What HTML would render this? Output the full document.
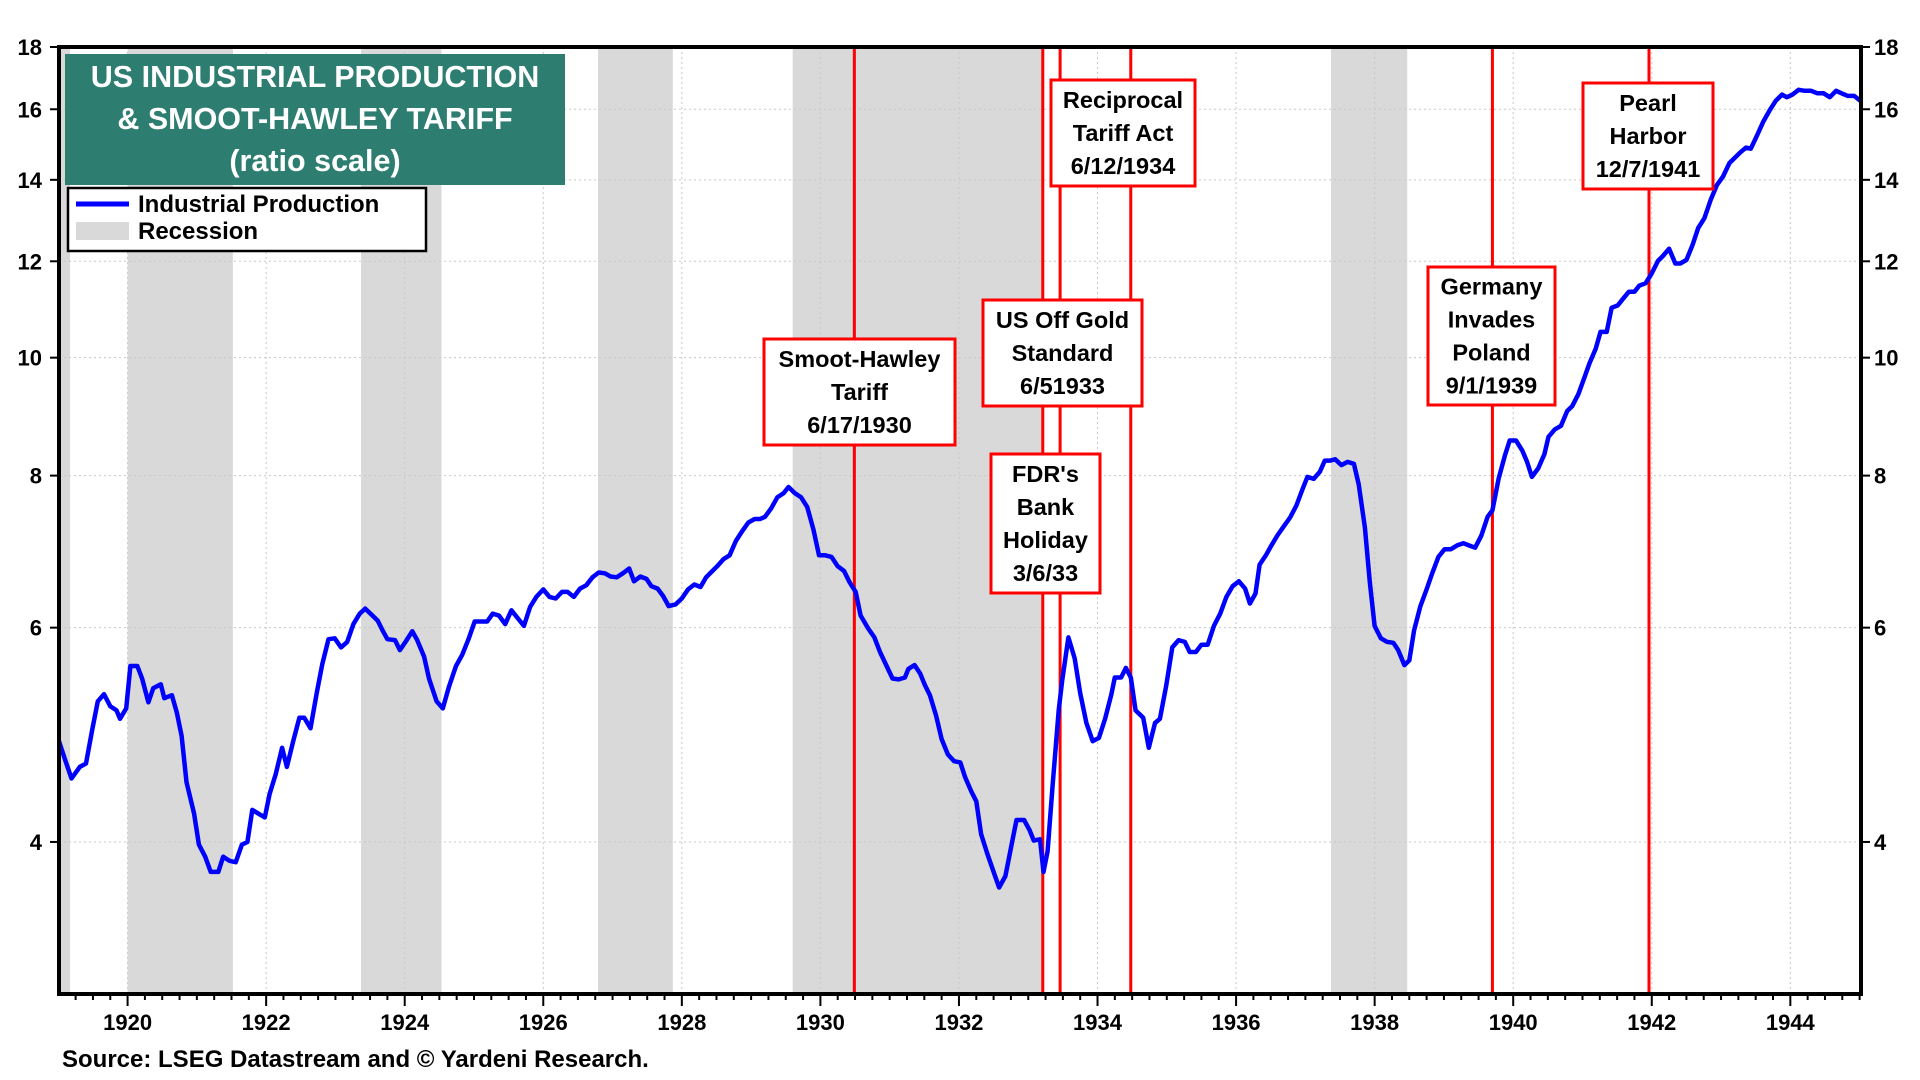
<!DOCTYPE html>
<html><head><meta charset="utf-8"><style>
html,body{margin:0;padding:0;background:#fff;}
svg{display:block;font-family:"Liberation Sans",Arial,sans-serif;font-weight:bold;}
</style></head><body>
<svg id="chart" width="1920" height="1080" viewBox="0 0 1920 1080" xmlns="http://www.w3.org/2000/svg">
<g id="g-rec"></g><g id="g-grid"></g><g id="g-events"></g><g id="g-line"></g><g id="g-axes"></g><g id="g-ann"></g><g id="g-legend"></g>
<text x="62" y="1067" font-size="24" fill="#000">Source: LSEG Datastream and © Yardeni Research.</text>
</svg>
<script>
const dates=[1919.01,1919.10,1919.19,1919.31,1919.40,1919.49,1919.57,1919.66,1919.75,1919.84,1919.89,1919.98,1920.04,1920.14,1920.21,1920.30,1920.37,1920.48,1920.53,1920.64,1920.71,1920.78,1920.85,1920.96,1921.03,1921.12,1921.20,1921.31,1921.38,1921.47,1921.56,1921.65,1921.73,1921.80,1921.89,1921.98,1922.05,1922.14,1922.23,1922.30,1922.39,1922.48,1922.55,1922.64,1922.73,1922.81,1922.90,1922.99,1923.08,1923.17,1923.26,1923.35,1923.43,1923.52,1923.61,1923.68,1923.75,1923.86,1923.93,1924.02,1924.11,1924.18,1924.28,1924.35,1924.46,1924.55,1924.64,1924.74,1924.83,1924.92,1925.01,1925.10,1925.19,1925.27,1925.36,1925.45,1925.54,1925.63,1925.72,1925.81,1925.90,1926.00,1926.09,1926.18,1926.27,1926.35,1926.44,1926.53,1926.62,1926.71,1926.80,1926.89,1926.97,1927.06,1927.15,1927.24,1927.31,1927.40,1927.49,1927.56,1927.65,1927.73,1927.81,1927.91,1928.00,1928.09,1928.18,1928.27,1928.35,1928.42,1928.51,1928.60,1928.69,1928.78,1928.87,1928.96,1929.05,1929.13,1929.20,1929.29,1929.38,1929.47,1929.54,1929.63,1929.72,1929.81,1929.90,1929.98,1930.07,1930.16,1930.25,1930.34,1930.42,1930.51,1930.58,1930.69,1930.78,1930.86,1930.95,1931.04,1931.13,1931.22,1931.27,1931.36,1931.44,1931.51,1931.58,1931.67,1931.75,1931.84,1931.93,1932.02,1932.09,1932.18,1932.25,1932.32,1932.41,1932.50,1932.58,1932.67,1932.76,1932.83,1932.94,1933.02,1933.08,1933.17,1933.22,1933.28,1933.35,1933.44,1933.49,1933.58,1933.67,1933.75,1933.84,1933.93,1934.02,1934.11,1934.20,1934.25,1934.34,1934.41,1934.48,1934.55,1934.66,1934.74,1934.83,1934.90,1934.99,1935.08,1935.17,1935.26,1935.33,1935.42,1935.50,1935.59,1935.68,1935.77,1935.86,1935.95,1936.04,1936.13,1936.20,1936.28,1936.34,1936.43,1936.51,1936.60,1936.69,1936.78,1936.87,1936.96,1937.03,1937.12,1937.21,1937.28,1937.36,1937.43,1937.52,1937.61,1937.70,1937.77,1937.86,1937.93,1938.00,1938.09,1938.18,1938.27,1938.34,1938.43,1938.50,1938.57,1938.66,1938.75,1938.83,1938.92,1939.01,1939.10,1939.19,1939.28,1939.36,1939.45,1939.54,1939.63,1939.70,1939.79,1939.88,1939.95,1940.04,1940.13,1940.20,1940.27,1940.36,1940.45,1940.51,1940.60,1940.69,1940.78,1940.85,1940.94,1941.03,1941.10,1941.19,1941.26,1941.35,1941.42,1941.51,1941.58,1941.67,1941.75,1941.82,1941.91,1942.00,1942.09,1942.16,1942.25,1942.34,1942.41,1942.50,1942.59,1942.67,1942.76,1942.85,1942.94,1943.03,1943.12,1943.19,1943.28,1943.36,1943.43,1943.52,1943.61,1943.70,1943.79,1943.88,1943.95,1944.03,1944.12,1944.21,1944.30,1944.39,1944.48,1944.57,1944.66,1944.74,1944.83,1944.92,1945.01];
const production=[4.84,4.67,4.51,4.61,4.64,4.95,5.22,5.29,5.17,5.13,5.05,5.15,5.58,5.58,5.45,5.21,5.35,5.39,5.25,5.28,5.11,4.89,4.48,4.22,3.98,3.89,3.78,3.78,3.89,3.86,3.85,3.98,4.0,4.25,4.22,4.19,4.38,4.55,4.78,4.61,4.84,5.06,5.06,4.96,5.30,5.60,5.87,5.88,5.78,5.84,6.04,6.16,6.22,6.15,6.08,5.97,5.87,5.86,5.75,5.85,5.96,5.86,5.68,5.45,5.22,5.15,5.37,5.58,5.70,5.87,6.07,6.07,6.07,6.16,6.14,6.04,6.20,6.11,6.02,6.24,6.36,6.45,6.36,6.34,6.42,6.42,6.36,6.46,6.50,6.60,6.66,6.65,6.61,6.60,6.65,6.71,6.55,6.61,6.58,6.49,6.46,6.37,6.25,6.27,6.34,6.45,6.51,6.48,6.60,6.66,6.74,6.83,6.88,7.07,7.20,7.32,7.37,7.37,7.40,7.52,7.68,7.74,7.83,7.74,7.68,7.54,7.22,6.88,6.88,6.86,6.74,6.68,6.54,6.42,6.14,5.99,5.89,5.73,5.59,5.45,5.44,5.46,5.55,5.59,5.50,5.38,5.28,5.08,4.86,4.72,4.66,4.65,4.52,4.40,4.32,4.06,3.91,3.78,3.67,3.75,3.98,4.17,4.17,4.09,4.01,4.02,3.78,3.93,4.44,5.13,5.43,5.89,5.66,5.30,5.01,4.84,4.87,5.05,5.29,5.46,5.46,5.56,5.46,5.13,5.06,4.78,5.01,5.05,5.37,5.78,5.86,5.84,5.73,5.73,5.81,5.81,6.02,6.16,6.36,6.49,6.55,6.46,6.28,6.40,6.76,6.88,7.01,7.15,7.27,7.39,7.56,7.80,7.98,7.95,8.06,8.23,8.23,8.25,8.16,8.21,8.18,7.87,7.25,6.54,6.02,5.88,5.84,5.83,5.75,5.59,5.64,5.97,6.25,6.45,6.65,6.86,6.96,6.96,7.01,7.04,7.01,6.98,7.14,7.40,7.49,7.96,8.31,8.55,8.55,8.39,8.21,7.98,8.11,8.33,8.61,8.73,8.79,9.04,9.12,9.33,9.64,9.89,10.17,10.5,10.5,10.99,11.04,11.17,11.33,11.33,11.46,11.51,11.73,12.01,12.12,12.29,11.95,11.95,12.03,12.38,12.78,13.02,13.48,13.86,14.09,14.45,14.58,14.75,14.88,14.85,15.23,15.63,15.96,16.26,16.45,16.37,16.45,16.60,16.57,16.57,16.49,16.49,16.37,16.57,16.49,16.41,16.41,16.26];
const recessionStarts=[1918.9,1920.0,1923.37,1926.79,1929.6,1937.37];
const recessionEnds=[1919.17,1921.52,1924.53,1927.87,1933.2,1938.47];
const eventDates=[1930.49,1933.21,1933.46,1934.48,1939.7,1941.96];
const yTicks=[4,6,8,10,12,14,16,18];
const xTickYears=[1920,1922,1924,1926,1928,1930,1932,1934,1936,1938,1940,1942,1944];
const annTexts=[["Smoot-Hawley","Tariff","6/17/1930"],["US Off Gold","Standard","6/51933"],["Reciprocal","Tariff Act","6/12/1934"],["FDR's","Bank","Holiday","3/6/33"],["Germany","Invades","Poland","9/1/1939"],["Pearl","Harbor","12/7/1941"]];
const annNames=["smoot-hawley-annotation","off-gold-annotation","reciprocal-tariff-annotation","bank-holiday-annotation","germany-poland-annotation","pearl-harbor-annotation"];
const annBoxes=[[764,339,191,106],[983,300,159,106],[1051,80,144,106],[991,454,109,139],[1428,267,127,138],[1583,83,130,106]];

const NS="http://www.w3.org/2000/svg";
const L=59,R=1861,T=47,B=994,X0=1919.01,X1=1945.02,YMIN=3,YMAX=18;
const xs=v=>L+(v-X0)/(X1-X0)*(R-L);
const ys=v=>T+(Math.log(YMAX)-Math.log(v))/(Math.log(YMAX)-Math.log(YMIN))*(B-T);
function mk(tag,attrs,parent){const e=document.createElementNS(NS,tag);for(const k in attrs)e.setAttribute(k,attrs[k]);parent.appendChild(e);return e;}
const gRec=document.getElementById('g-rec'),gGrid=document.getElementById('g-grid'),gEv=document.getElementById('g-events'),gLine=document.getElementById('g-line'),gAx=document.getElementById('g-axes'),gAnn=document.getElementById('g-ann'),gLeg=document.getElementById('g-legend');

recessionStarts.forEach((s,i)=>{
  const a=Math.max(xs(s),L),b=xs(recessionEnds[i]);
  const r=mk('rect',{x:a,y:T,width:b-a,height:B-T,fill:'#d9d9d9'},gRec);
  
  
});
yTicks.forEach(v=>{
  if(v<YMAX){const l=mk('line',{x1:L,x2:R,y1:ys(v),y2:ys(v),stroke:'#c8c8c8','stroke-width':1,'stroke-dasharray':'2,3'},gGrid);
  
  }
  const t1=mk('text',{x:42,y:ys(v)+8,'text-anchor':'end','font-size':22},gAx);t1.textContent=v;
  
  
  const t2=mk('text',{x:1874,y:ys(v)+8,'text-anchor':'start','font-size':22},gAx);t2.textContent=v;
  
  
  mk('line',{x1:L-9,x2:L,y1:ys(v),y2:ys(v),stroke:'#000','stroke-width':2},gAx);
  mk('line',{x1:R,x2:R+9,y1:ys(v),y2:ys(v),stroke:'#000','stroke-width':2},gAx);
});
xTickYears.forEach(yr=>{
  const x=xs(yr);
  const g=mk('line',{x1:x,x2:x,y1:T,y2:B,stroke:'#c8c8c8','stroke-width':1,'stroke-dasharray':'2,3'},gGrid);
  
  
  const t=mk('text',{x:x,y:1030,'text-anchor':'middle','font-size':22},gAx);t.textContent=yr;
  
  
});
for(let q=Math.ceil(X0*4);q<=X1*4;q++){
  const yr=q/4,x=xs(yr),major=(q%8===0);
  mk('line',{x1:x,x2:x,y1:B,y2:B+(major?12:6),stroke:'#000','stroke-width':2},gAx);
}
eventDates.forEach(d=>{
  const l=mk('line',{x1:xs(d),x2:xs(d),y1:T,y2:B,stroke:'#ff0000','stroke-width':3},gEv);
  
  
});
let dstr='';
dates.forEach((d,i)=>{dstr+=(i?'L':'M')+xs(d).toFixed(1)+','+ys(production[i]).toFixed(1);});
const path=mk('path',{d:dstr,fill:'none',stroke:'#0000ff','stroke-width':4.5,'stroke-linejoin':'round'},gLine);


const frame=mk('rect',{x:L,y:T,width:R-L,height:B-T,fill:'none',stroke:'#000','stroke-width':4},gAx);



annBoxes.forEach((b,i)=>{
  const g=mk('g',{},gAnn);
  
  
  mk('rect',{x:b[0],y:b[1],width:b[2],height:b[3],fill:'#fff',stroke:'#ff0000','stroke-width':3},g);
  const lines=annTexts[i],n=lines.length,cx=b[0]+b[2]/2,cy=b[1]+b[3]/2;
  lines.forEach((s,j)=>{const t=mk('text',{x:cx,y:cy+(j-(n-1)/2)*33+8,'text-anchor':'middle','font-size':23.5},g);t.textContent=s;});
});

const tb=mk('rect',{x:65,y:54,width:500,height:131,fill:'#2e7d71'},gLeg);


["US INDUSTRIAL PRODUCTION","& SMOOT-HAWLEY TARIFF","(ratio scale)"].forEach((s,j)=>{
  const t=mk('text',{x:315,y:87+j*42,'text-anchor':'middle','font-size':30.5,fill:'#fff'},gLeg);t.textContent=s;
  
  
});
const lb=mk('rect',{x:68,y:188,width:358,height:63,fill:'#fff',stroke:'#000','stroke-width':2.5},gLeg);


mk('line',{x1:76,x2:129,y1:204,y2:204,stroke:'#0000ff','stroke-width':5},gLeg);
mk('rect',{x:76,y:222,width:53,height:18,fill:'#d9d9d9'},gLeg);
const le1=mk('text',{x:138,y:212,'font-size':24},gLeg);le1.textContent='Industrial Production';


const le2=mk('text',{x:138,y:239,'font-size':24},gLeg);le2.textContent='Recession';


</script>
</body></html>
